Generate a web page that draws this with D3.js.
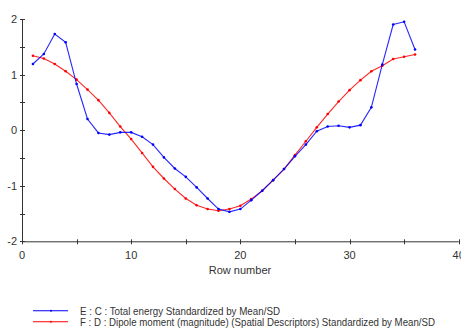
<!DOCTYPE html>
<html><head><meta charset="utf-8">
<script src="https://cdn.jsdelivr.net/npm/d3@7"></script>
<style>body{margin:0;background:#fff}svg{display:block}text{font-family:"Liberation Sans",Arial,sans-serif}</style>
</head><body><svg id="c" width="461" height="328"></svg>
<script>
const rows = d3.range(1, 37);
const energy = [1.19,1.37,1.73,1.58,0.83,0.2,-0.05,-0.08,-0.04,-0.04,-0.12,-0.26,-0.49,-0.69,-0.84,-1.03,-1.23,-1.42,-1.47,-1.42,-1.26,-1.09,-0.9,-0.7,-0.47,-0.26,-0.02,0.065,0.08,0.05,0.09,0.41,1.18,1.9,1.95,1.45];
const dipole = [1.34,1.29,1.19,1.06,0.91,0.73,0.54,0.31,0.065,-0.16,-0.41,-0.66,-0.87,-1.06,-1.23,-1.35,-1.42,-1.45,-1.42,-1.36,-1.24,-1.09,-0.9,-0.7,-0.45,-0.2,0.05,0.29,0.515,0.72,0.9,1.06,1.16,1.28,1.32,1.36];
const seriesNames = ["E : C : Total energy Standardized by Mean/SD","F : D : Dipole moment (magnitude) (Spatial Descriptors) Standardized by Mean/SD"];
const seriesColors = ["#0000ff","#ff0000"];
const xTicks = [0,10,20,30,40];
const yTicks = [-2,-1,0,1,2];
const xLabel = "Row number";

const svg = d3.select("#c");
const x = d3.scaleLinear().domain([0,40]).range([22,458.7]);
const y = d3.scaleLinear().domain([-2,2]).range([241.3,19]);
const axisColor = "#333";

const g = svg.append("g");
g.append("line").attr("x1",x(0)).attr("x2",x(40)).attr("y1",y(-2)+0.5).attr("y2",y(-2)+0.5).attr("stroke",axisColor);
g.append("line").attr("x1",x(0)+0.5).attr("x2",x(0)+0.5).attr("y1",y(2)).attr("y2",y(-2)).attr("stroke",axisColor);
d3.range(0,41,5).forEach(v=>{
  g.append("line").attr("x1",Math.round(x(v))+0.5).attr("x2",Math.round(x(v))+0.5).attr("y1",y(-2)-2).attr("y2",y(-2)+3).attr("stroke",axisColor);
});
d3.range(-2,2.01,0.5).forEach(v=>{
  g.append("line").attr("x1",x(0)-2).attr("x2",x(0)+3).attr("y1",Math.round(y(v))+0.5).attr("y2",Math.round(y(v))+0.5).attr("stroke",axisColor);
});
xTicks.forEach(v=>{
  g.append("text").attr("x",x(v)).attr("y",y(-2)+18).attr("text-anchor","middle").attr("font-size",11).attr("fill","#333").text(v);
});
yTicks.forEach(v=>{
  g.append("text").attr("x",x(0)-5).attr("y",y(v)+4).attr("text-anchor","end").attr("font-size",11).attr("fill","#333").text(v);
});
g.append("text").attr("x",240).attr("y",274).attr("text-anchor","middle").attr("font-size",11).attr("fill","#333").text(xLabel);

const line = d3.line().x((d,i)=>x(rows[i])).y(d=>y(d));
[dipole, energy].forEach((data,k)=>{
  const c = seriesColors[k===0?1:0];
  svg.append("path").attr("d",line(data)).attr("fill","none").attr("stroke",c).attr("stroke-opacity",0.85).attr("stroke-width",1.1);
  svg.selectAll(null).data(data).enter().append("circle")
    .attr("cx",(d,i)=>x(rows[i])).attr("cy",d=>y(d)).attr("r",1.3).attr("fill",c);
});

const legendWidths = [200, 355];
seriesNames.forEach((n,i)=>{
  const yy = 310.7 + i*11;
  svg.append("line").attr("x1",33).attr("x2",68).attr("y1",yy).attr("y2",yy).attr("stroke",seriesColors[i]).attr("stroke-width",1.1);
  svg.append("circle").attr("cx",51).attr("cy",yy).attr("r",1).attr("fill",seriesColors[i]);
  svg.append("text").attr("x",80).attr("y",yy+4).attr("font-size",10.5).attr("fill","#333")
    .attr("textLength",legendWidths[i]).attr("lengthAdjust","spacingAndGlyphs").text(n);
});
</script></body></html>
